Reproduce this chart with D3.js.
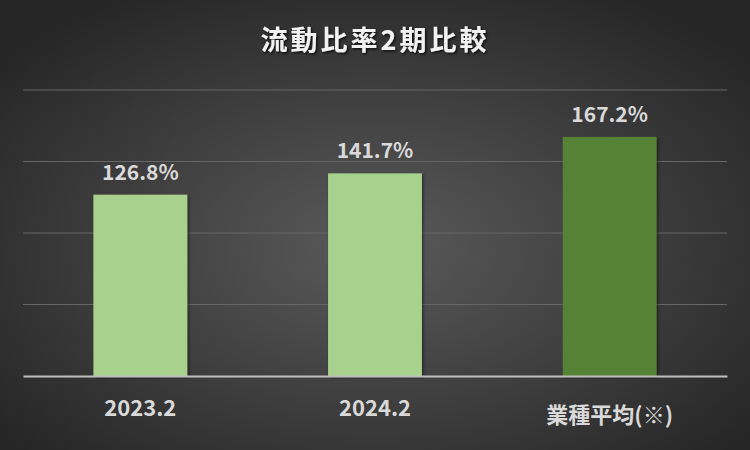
<!DOCTYPE html>
<html>
<head>
<meta charset="utf-8">
<script src="https://cdn.jsdelivr.net/npm/d3@7"></script>
<style>
  html, body { margin: 0; padding: 0; background: #2b2b2b; }
  svg { display: block; }
  text { font-family: "Noto Sans CJK JP", "Noto Sans", sans-serif; }
</style>
</head>
<body>
<script>
const title = "流動比率2期比較";
const categories = ["2023.2", "2024.2", "業種平均(※)"];
const values = [126.8, 141.7, 167.2];
const barColors = ["#a9d18e", "#a9d18e", "#548235"];
const yTicks = [0, 50, 100, 150, 200];

const W = 750, H = 450;
const margin = { left: 23, right: 23, top: 90, bottom: 74 };

const svg = d3.select("body").append("svg").attr("width", W).attr("height", H);
const defs = svg.append("defs");

const grad = defs.append("radialGradient").attr("id", "bg")
  .attr("cx", "50%").attr("cy", "55%").attr("r", "65%");
grad.append("stop").attr("offset", "0%").attr("stop-color", "#5a5a5a");
grad.append("stop").attr("offset", "100%").attr("stop-color", "#262626");

const tsh = defs.append("filter").attr("id", "tshadow")
  .attr("x", "-10%").attr("y", "-30%").attr("width", "120%").attr("height", "160%");
tsh.append("feDropShadow").attr("dx", 1.5).attr("dy", 1.5).attr("stdDeviation", 1.2)
  .attr("flood-color", "#000").attr("flood-opacity", 0.7);

const bsh = defs.append("filter").attr("id", "bshadow")
  .attr("x", "-10%").attr("y", "-10%").attr("width", "130%").attr("height", "130%");
bsh.append("feDropShadow").attr("dx", 1.5).attr("dy", 1.5).attr("stdDeviation", 1.5)
  .attr("flood-color", "#000").attr("flood-opacity", 0.45);

svg.append("rect").attr("width", W).attr("height", H).attr("fill", "url(#bg)");

const x = d3.scaleBand().domain(categories)
  .range([margin.left, W - margin.right])
  .paddingInner(0.6).paddingOuter(0.3);
const y = d3.scaleLinear().domain([0, 200]).range([H - margin.bottom, margin.top]);

// gridlines
svg.append("g").selectAll("line").data(yTicks.filter(d => d > 0)).join("line")
  .attr("x1", margin.left).attr("x2", W - margin.right)
  .attr("y1", d => y(d)).attr("y2", d => y(d))
  .attr("stroke", "#666666").attr("stroke-width", 1.2);

// bars
svg.append("g").selectAll("rect").data(values).join("rect")
  .attr("x", (d, i) => x(categories[i]))
  .attr("width", x.bandwidth())
  .attr("y", d => y(d))
  .attr("height", d => y(0) - y(d))
  .attr("fill", (d, i) => barColors[i])
  .attr("filter", "url(#bshadow)");

// value labels
svg.append("g").selectAll("text").data(values).join("text")
  .attr("x", (d, i) => x(categories[i]) + x.bandwidth() / 2)
  .attr("y", d => y(d) - 15)
  .attr("text-anchor", "middle")
  .attr("fill", "#d9d9d9")
  .attr("font-size", 21).attr("font-weight", "bold")
  .text(d => d.toFixed(1) + "%");

// x axis
const xAxis = svg.append("g").attr("transform", `translate(0,${y(0)})`)
  .call(d3.axisBottom(x).tickSize(0).tickPadding(0));
xAxis.select(".domain").attr("stroke", "#bfbfbf").attr("stroke-width", 2);
xAxis.selectAll("text")
  .attr("fill", "#d9d9d9")
  .attr("font-size", 22).attr("font-weight", "bold")
  .attr("dy", 0)
  .attr("y", d => /^[0-9.]+$/.test(d) ? 40 : 47);

// title
svg.append("text")
  .attr("x", W / 2).attr("y", 50)
  .attr("text-anchor", "middle")
  .attr("fill", "#f2f2f2")
  .attr("font-size", 27).attr("font-weight", "bold")
  .attr("letter-spacing", 3)
  .attr("filter", "url(#tshadow)")
  .text(title);
</script>
</body>
</html>
